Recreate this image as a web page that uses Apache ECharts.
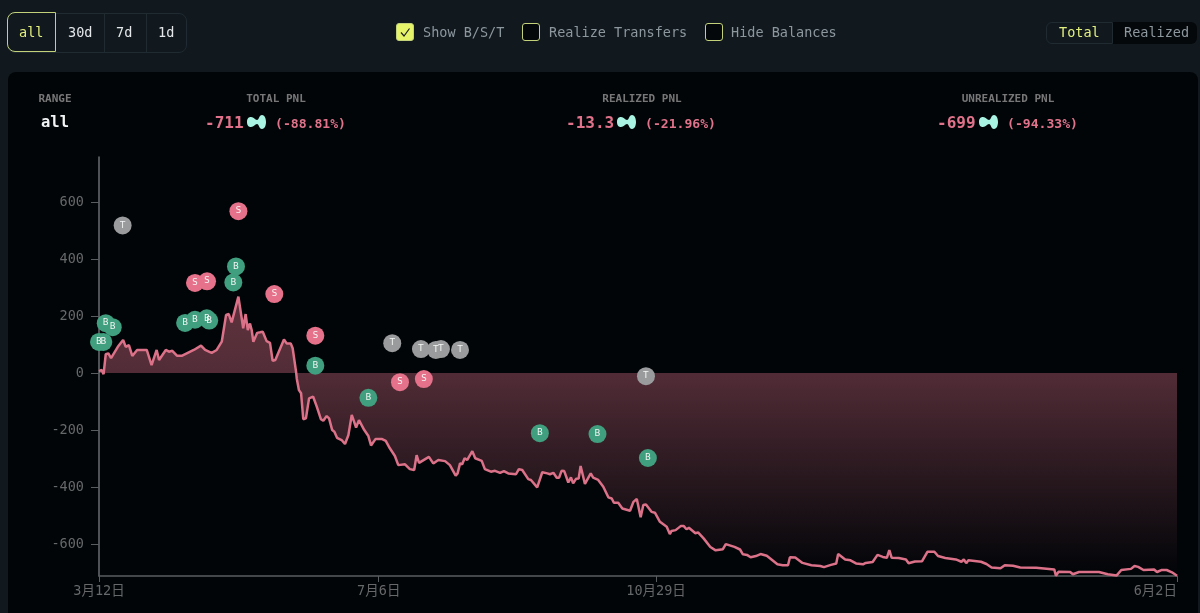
<!DOCTYPE html>
<html><head><meta charset="utf-8">
<script src="https://cdn.jsdelivr.net/npm/echarts@6/dist/echarts.min.js"></script>
<style>
html,body{margin:0;padding:0;width:1200px;height:613px;overflow:hidden;background:#11191f;font-family:"DejaVu Sans Mono","Noto Sans CJK SC",monospace;}
.abs{position:absolute;white-space:pre;line-height:1;}
#panel{position:absolute;left:8px;top:72px;width:1190px;height:560px;background:#020508;border-radius:8px;}
#chart{position:absolute;left:0;top:0;width:1200px;height:613px;}
.grp{position:absolute;left:7px;top:13px;width:178px;height:38px;border:1px solid #1f2a31;border-radius:8px;}
.sep{position:absolute;top:13px;width:1px;height:39px;background:#1f2a31;}
.act{position:absolute;left:7px;top:12px;width:47px;height:38px;border:1.5px solid #c3d27a;border-radius:8px 0 0 8px;background:#11191f;}
.btn{font-size:13.5px;color:#e4e8ea;top:26px;}
.cb{position:absolute;top:23px;width:16px;height:16px;border:1.5px solid #c3d27a;border-radius:3px;background:#05080b;}
.cbl{font-size:13.5px;color:#8d979e;top:26px;}
.head{font-size:11px;font-weight:bold;color:#777;top:93px;transform:translateX(-50%);}
.big{font-size:16px;font-weight:bold;color:#e0738b;top:115px;}
.pct{font-size:13.1px;font-weight:bold;color:#e0738b;top:117px;}
svg.ic{position:absolute;top:115px;width:19px;height:14px;}
</style></head><body>
<div id="panel"></div>
<div id="chart"></div>
<div class="grp"></div><div class="sep" style="left:104px"></div><div class="sep" style="left:146px"></div><div class="act"></div>
<div class="abs btn" style="left:19px;color:#e3f07f">all</div>
<div class="abs btn" style="left:68px">30d</div>
<div class="abs btn" style="left:116px">7d</div>
<div class="abs btn" style="left:158px">1d</div>
<div class="cb" style="left:396px;background:#e6f46a"><svg width="16" height="16" style="display:block"><path d="M4 8.5 L7 12 L12.5 4.5" fill="none" stroke="#222" stroke-width="1.2"/></svg></div>
<div class="abs cbl" style="left:423px">Show B/S/T</div>
<div class="cb" style="left:522px"></div>
<div class="abs cbl" style="left:549px">Realize Transfers</div>
<div class="cb" style="left:705px"></div>
<div class="abs cbl" style="left:731px">Hide Balances</div>
<div style="position:absolute;left:1112px;top:22px;width:85px;height:22px;background:#05080b;border-radius:0 6px 6px 0"></div>
<div style="position:absolute;left:1046px;top:22px;width:65px;height:20px;border:1px solid #1f2a31;border-radius:6px 0 0 6px"></div>
<div class="abs cbl" style="left:1059px;color:#e3f07f">Total</div>
<div class="abs cbl" style="left:1124px">Realized</div>
<div class="abs head" style="left:55px">RANGE</div>
<div class="abs" style="left:55px;top:115px;transform:translateX(-50%);font-size:15.5px;font-weight:bold;color:#f2f4f5">all</div>
<div class="abs head" style="left:276px">TOTAL PNL</div>
<div class="abs big" style="left:205px">-711</div>
<svg class="ic" style="left:247px" viewBox="0 0 19 14"><path d="M0 7C0 3 2 2 4 2C7 2 8 5 10 5C12 5 12 0 15 0C18 0 19 4 19 7C19 10 18 14 15 14C12 14 12 9 10 9C8 9 7 12 4 12C2 12 0 11 0 7Z" fill="#a8f3e2"/></svg>
<div class="abs pct" style="left:275px">(-88.81%)</div>
<div class="abs head" style="left:642px">REALIZED PNL</div>
<div class="abs big" style="left:566px">-13.3</div>
<svg class="ic" style="left:617px" viewBox="0 0 19 14"><path d="M0 7C0 3 2 2 4 2C7 2 8 5 10 5C12 5 12 0 15 0C18 0 19 4 19 7C19 10 18 14 15 14C12 14 12 9 10 9C8 9 7 12 4 12C2 12 0 11 0 7Z" fill="#a8f3e2"/></svg>
<div class="abs pct" style="left:645px">(-21.96%)</div>
<div class="abs head" style="left:1008px">UNREALIZED PNL</div>
<div class="abs big" style="left:937px">-699</div>
<svg class="ic" style="left:979px" viewBox="0 0 19 14"><path d="M0 7C0 3 2 2 4 2C7 2 8 5 10 5C12 5 12 0 15 0C18 0 19 4 19 7C19 10 18 14 15 14C12 14 12 9 10 9C8 9 7 12 4 12C2 12 0 11 0 7Z" fill="#a8f3e2"/></svg>
<div class="abs pct" style="left:1007px">(-94.33%)</div>
<script>
// days since 3月12日
const pnlDays = [0,1.1,1.9,2.8,3.9,5,5.8,7.8,8.6,10,11.1,12.4,13.8,15.8,17.7,18.5,19.8,20.5,21.8,23.9,24.9,27.7,29,30.4,32.3,34.5,39.3,40.1,42.3,44,46.7,48.8,50.9,52.7,53.8,55,57.8,59.8,60.8,61.7,62.6,63.3,64,65.6,66.8,67.9,69.5,70.9,72,73.1,76.7,77.8,79.5,80.3,81.7,82,82.9,83.8,84.7,85.8,87.1,88.8,90.3,92,93,94.4,95.4,96.7,97.6,98.7,100.6,102,103.4,104.8,106.6,107.8,108.6,110,111.7,112.8,114.7,117.2,118.9,120.6,122.7,124.1,126.9,128.9,130.7,131.7,132.7,136.8,138.6,140.7,143.5,145.5,147.9,148.7,149.7,150.6,151.6,152.7,154.8,156,158.7,160,162.5,164.2,166.3,167.9,169.7,172.9,174.1,175.5,178,179.1,181.7,183.8,185.9,187,188.4,189.8,190.8,191.8,192.9,194.6,195.7,196.6,197.8,198.9,199.7,201.5,203.9,204.9,207,209.1,211.2,212.6,213.5,215.3,217,220.2,221.6,223,224.6,225.7,226.8,229.1,230.5,232.6,235.4,236.7,237.4,239.1,241.2,242.5,243.6,244.6,247.3,248.4,250.7,253.5,255.7,258.7,259.9,263.5,265.8,267,268.7,270.2,272.4,274.3,276.9,279.1,281.3,283.5,285.7,286.5,288.7,291.7,295.4,299.1,300.6,303.5,305.7,306.5,309.4,311.6,313.9,316.8,317.9,320.8,322.8,325,326.7,327.7,328.7,331.6,334.6,335.7,338.3,341.3,343.5,346.4,347.9,350.9,351.6,355.3,357.6,358.6,359.6,360.5,365.7,368,370.1,373.8,375.6,379,382,388.6,396.1,396.8,397.9,402.7,403.8,406.4,414.6,418.3,422,423.9,427.9,429.4,430.9,433.1,437.5,438.7,440.5,442.7,444.9,447];
const pnlValues = [7,11,-4,66,69,52,52,92,87,116,92,98,60,81,81,75,81,74,28,81,46,81,75,78,61,61,81,75,96,81,71,81,110,204,207,178,268,157,207,151,174,151,110,141,143,145,112,106,43,46,118,104,104,87,5,-19,-60,-71,-162,-159,-89,-83,-118,-162,-167,-151,-159,-200,-206,-227,-235,-249,-218,-147,-191,-165,-167,-200,-221,-254,-231,-231,-238,-264,-291,-323,-320,-337,-340,-288,-315,-294,-317,-305,-309,-323,-360,-352,-317,-320,-299,-305,-274,-299,-308,-337,-346,-343,-350,-344,-352,-355,-337,-340,-372,-375,-401,-348,-352,-355,-350,-367,-367,-343,-344,-384,-366,-387,-371,-370,-326,-389,-352,-367,-375,-399,-436,-440,-455,-455,-475,-483,-452,-442,-506,-463,-461,-487,-490,-522,-539,-565,-554,-551,-537,-537,-548,-543,-562,-559,-580,-610,-622,-618,-600,-610,-619,-636,-638,-646,-642,-635,-641,-656,-671,-674,-674,-646,-647,-666,-674,-677,-681,-673,-668,-635,-654,-657,-668,-671,-666,-663,-638,-645,-648,-621,-648,-649,-654,-667,-661,-660,-627,-627,-642,-649,-645,-654,-662,-654,-667,-657,-662,-670,-682,-685,-674,-676,-682,-683,-689,-711,-697,-698,-706,-698,-698,-706,-710,-691,-687,-677,-680,-691,-689,-698,-691,-691,-699,-711];
const buyDays = [2.8,5.7,0,1.8,35.7,39.8,44.7,45.7,55.7,56.8,89.7,111.7,182.8,206.7,227.6];
const buyValues = [175,161,109,109,176,187,192,184,318,374,26,-87,-211,-214,-298];
const sellDays = [39.8,44.8,57.8,72.7,89.7,124.8,134.7];
const sellValues = [316,322,568,277,131,-32,-21];
const transferDays = [9.8,121.6,133.5,139.7,141.8,149.7,226.8];
const transferValues = [518,105,84,81,84,81,-11];
const xTickDays = [0,116,231,447];
const xTickLabels = ['3月12日','7月6日','10月29日','6月2日'];
const yTicks = [-600,-400,-200,0,200,400,600];

const FONT = '"DejaVu Sans Mono","Noto Sans CJK SC",monospace';
const zip = (a,b)=>a.map((v,i)=>[v,b[i]]);
const marker = (name,days,vals,color,letter)=>({
  name,type:'scatter',data:zip(days,vals),symbol:'circle',symbolSize:18,z:5,
  itemStyle:{color,opacity:1},
  label:{show:true,position:'inside',formatter:letter,color:'#f4f6f5',fontSize:8.5,fontFamily:'"DejaVu Sans",sans-serif'}
});
const chart = echarts.init(document.getElementById('chart'),null,{renderer:'canvas'});
chart.setOption({
  animation:false,
  backgroundColor:'transparent',
  grid:{left:99,right:23,top:157,bottom:37},
  tooltip:{show:false},
  xAxis:{type:'value',min:0,max:447,splitLine:{show:false},
    axisLine:{onZero:false,lineStyle:{color:'#5a5d60',width:1.5}},
    axisTick:{customValues:xTickDays,length:6,lineStyle:{color:'#5a5d60'}},
    axisLabel:{customValues:xTickDays,alignMaxLabel:'right',color:'#666869',fontSize:13.5,margin:9,fontFamily:FONT,
      formatter:v=>xTickLabels[xTickDays.indexOf(v)]}},
  yAxis:{type:'value',min:-712,max:758,splitLine:{show:false},
    axisLine:{show:true,onZero:false,lineStyle:{color:'#6a6d70',width:1.5}},
    axisTick:{show:true,customValues:yTicks,length:8,lineStyle:{color:'#5a5d60'}},
    axisLabel:{customValues:yTicks,color:'#666869',fontSize:13.5,margin:15,fontFamily:FONT}},
  series:[
    {name:'PNL',type:'line',data:zip(pnlDays,pnlValues),showSymbol:false,smooth:false,z:3,
     lineStyle:{color:'#dc7289',width:2.5},
     areaStyle:{origin:0,opacity:1,color:new echarts.graphic.LinearGradient(0,0,0,1,[
       {offset:0,color:'rgba(224,115,139,0.42)'},{offset:0.27,color:'rgba(224,115,139,0.36)'},{offset:1,color:'rgba(224,115,139,0)'}])}},
    marker('Buy',buyDays,buyValues,'#409f7e','B'),
    marker('Sell',sellDays,sellValues,'#e5728a','S'),
    marker('Transfer',transferDays,transferValues,'#9a9b9c','T')
  ]
});
</script>
</body></html>
